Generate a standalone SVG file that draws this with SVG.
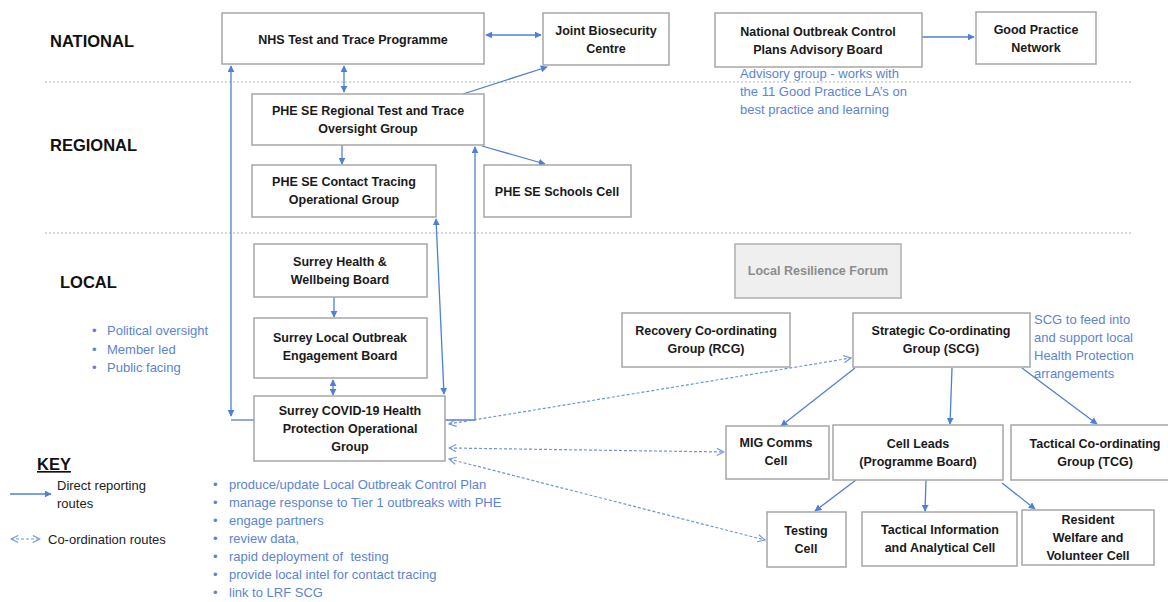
<svg xmlns="http://www.w3.org/2000/svg" width="1168" height="602" viewBox="0 0 1168 602">
<style>
.box{fill:#fff;stroke:#a6a6a6;stroke-width:1.5}
.lrf{fill:#efefef;stroke:#b0b0b0;stroke-width:1.5}
.t{font-family:"Liberation Sans",Arial,sans-serif;font-size:12.5px;font-weight:bold;fill:#1a1a1a;text-anchor:middle}
.tg{font-family:"Liberation Sans",Arial,sans-serif;font-size:12.5px;font-weight:bold;fill:#8c8c8c;text-anchor:middle}
.lvl{font-family:"Liberation Sans",Arial,sans-serif;font-size:16.5px;font-weight:bold;fill:#111}
.note{font-family:"Liberation Sans",Arial,sans-serif;font-size:13px;fill:#5b84d4}
.key{font-family:"Liberation Sans",Arial,sans-serif;font-size:13px;fill:#222}
.div{stroke:#b5b5b5;stroke-width:1.2;stroke-dasharray:2 2;fill:none}
.c{stroke:#4f7fd6;stroke-width:1.3;fill:none}
.d{stroke:#6f95dc;stroke-width:1.2;fill:none;stroke-dasharray:3 2}
</style>
<defs>
<marker id="ah" viewBox="0 0 10 10" refX="9" refY="5" markerWidth="7" markerHeight="7" orient="auto-start-reverse" markerUnits="userSpaceOnUse">
<path d="M0,0 L10,5 L0,10 z" fill="#4f7fd6"/>
</marker>
<marker id="oh" viewBox="0 0 10 10" refX="9" refY="5" markerWidth="9" markerHeight="9" orient="auto-start-reverse" markerUnits="userSpaceOnUse">
<path d="M1,1 L9,5 L1,9" fill="none" stroke="#6f95dc" stroke-width="1.2"/>
</marker>
</defs>
<rect width="1168" height="602" fill="#fff"/>

<g id="dividers">
<line class="div" x1="45" y1="82" x2="1132" y2="82"/>
<line class="div" x1="45" y1="233" x2="1132" y2="233"/>
</g>

<g id="levels">
<text class="lvl" x="50" y="47">NATIONAL</text>
<text class="lvl" x="50" y="151">REGIONAL</text>
<text class="lvl" x="60" y="288">LOCAL</text>
</g>

<g id="connectors">
<line class="c" x1="486" y1="35" x2="541" y2="35" marker-start="url(#ah)" marker-end="url(#ah)"/>
<line class="c" x1="344" y1="66" x2="344" y2="92" marker-start="url(#ah)" marker-end="url(#ah)"/>
<line class="c" x1="463" y1="94" x2="547" y2="67" marker-end="url(#ah)"/>
<line class="c" x1="922" y1="37" x2="974" y2="37" marker-end="url(#ah)"/>
<line class="c" x1="342" y1="145" x2="342" y2="164" marker-end="url(#ah)"/>
<line class="c" x1="482" y1="146" x2="545" y2="164" marker-end="url(#ah)"/>
<line class="c" x1="231" y1="66" x2="231" y2="416" marker-start="url(#ah)" marker-end="url(#ah)"/>
<polyline class="c" points="231,420 254,420"/>
<line class="c" x1="436" y1="219" x2="444" y2="394" marker-start="url(#ah)" marker-end="url(#ah)"/>
<polyline class="c" points="445,420 475,420 475,147" marker-end="url(#ah)"/>
<line class="c" x1="334" y1="297" x2="334" y2="317" marker-end="url(#ah)"/>
<line class="c" x1="333" y1="380" x2="333" y2="395" marker-start="url(#ah)" marker-end="url(#ah)"/>
<line class="c" x1="855" y1="368" x2="781" y2="426" marker-end="url(#ah)"/>
<line class="c" x1="952" y1="368" x2="950" y2="424" marker-end="url(#ah)"/>
<line class="c" x1="1022" y1="368" x2="1097" y2="424" marker-end="url(#ah)"/>
<line class="c" x1="856" y1="480" x2="815" y2="511" marker-end="url(#ah)"/>
<line class="c" x1="926" y1="480" x2="925" y2="511" marker-end="url(#ah)"/>
<line class="c" x1="1002" y1="483" x2="1035" y2="509" marker-end="url(#ah)"/>
<line class="d" x1="449" y1="424" x2="851" y2="358" marker-start="url(#oh)" marker-end="url(#oh)"/>
<line class="d" x1="449" y1="448" x2="724" y2="452" marker-start="url(#oh)" marker-end="url(#oh)"/>
<line class="d" x1="449" y1="459" x2="765" y2="540" marker-start="url(#oh)" marker-end="url(#oh)"/>
</g>

<g id="nhs"><rect class="box" x="222" y="13" width="262" height="51"/><text class="t" x="353" y="44">NHS Test and Trace Programme</text></g>
<g id="jbc"><rect class="box" x="543" y="13" width="126" height="52"/><text class="t" x="606" y="35">Joint Biosecurity</text><text class="t" x="606" y="53">Centre</text></g>
<g id="nocp"><rect class="box" x="715" y="13" width="207" height="54"/><text class="t" x="818" y="36">National Outbreak Control</text><text class="t" x="818" y="54">Plans Advisory Board</text></g>
<g id="gpn"><rect class="box" x="976" y="12" width="120" height="52"/><text class="t" x="1036" y="34">Good Practice</text><text class="t" x="1036" y="52">Network</text></g>
<g id="advisory-note"><text class="note" x="740" y="78">Advisory group - works with</text><text class="note" x="740" y="96">the 11 Good Practice LA’s on</text><text class="note" x="740" y="114">best practice and learning</text></g>

<g id="phe-regional"><rect class="box" x="252" y="94" width="232" height="51"/><text class="t" x="368" y="115">PHE SE Regional Test and Trace</text><text class="t" x="368" y="133">Oversight Group</text></g>
<g id="phe-contact"><rect class="box" x="252" y="165" width="184" height="52"/><text class="t" x="344" y="186">PHE SE Contact Tracing</text><text class="t" x="344" y="204">Operational Group</text></g>
<g id="phe-schools"><rect class="box" x="484" y="165" width="147" height="52"/><text class="t" x="557" y="196">PHE SE Schools Cell</text></g>

<g id="hwb"><rect class="box" x="254" y="244" width="173" height="53"/><text class="t" x="340" y="266">Surrey Health &amp;</text><text class="t" x="340" y="284">Wellbeing Board</text></g>
<g id="loeb"><rect class="box" x="254" y="318" width="173" height="60"/><text class="t" x="340" y="342">Surrey Local Outbreak</text><text class="t" x="340" y="360">Engagement Board</text></g>
<g id="covid"><rect class="box" x="254" y="396" width="191" height="65"/><text class="t" x="350" y="415">Surrey COVID-19 Health</text><text class="t" x="350" y="433">Protection Operational</text><text class="t" x="350" y="451">Group</text></g>
<g id="local-bullets">
<text class="note" x="92" y="335">•</text><text class="note" x="107" y="335">Political oversight</text>
<text class="note" x="92" y="354">•</text><text class="note" x="107" y="354">Member led</text>
<text class="note" x="92" y="372">•</text><text class="note" x="107" y="372">Public facing</text>
</g>

<g id="lrf"><rect class="lrf" x="735" y="244" width="166" height="54"/><text class="tg" x="818" y="275">Local Resilience Forum</text></g>
<g id="rcg"><rect class="box" x="622" y="313" width="168" height="54"/><text class="t" x="706" y="335">Recovery Co-ordinating</text><text class="t" x="706" y="353">Group (RCG)</text></g>
<g id="scg"><rect class="box" x="853" y="313" width="177" height="54"/><text class="t" x="941" y="335">Strategic Co-ordinating</text><text class="t" x="941" y="353">Group (SCG)</text></g>
<g id="scg-note"><text class="note" x="1034" y="324">SCG to feed into</text><text class="note" x="1034" y="342">and support local</text><text class="note" x="1034" y="360">Health Protection</text><text class="note" x="1034" y="378">arrangements</text></g>

<g id="mig"><rect class="box" x="726" y="426" width="103" height="53"/><text class="t" x="776" y="447">MIG Comms</text><text class="t" x="776" y="465">Cell</text></g>
<g id="cell-leads"><rect class="box" x="833" y="425" width="170" height="55"/><text class="t" x="918" y="448">Cell Leads</text><text class="t" x="918" y="466">(Programme Board)</text></g>
<g id="tcg"><rect class="box" x="1011" y="425" width="160" height="55"/><text class="t" x="1095" y="448">Tactical Co-ordinating</text><text class="t" x="1095" y="466">Group (TCG)</text></g>
<g id="testing"><rect class="box" x="767" y="512" width="79" height="55"/><text class="t" x="806" y="535">Testing</text><text class="t" x="806" y="553">Cell</text></g>
<g id="tiac"><rect class="box" x="862" y="512" width="155" height="54"/><text class="t" x="940" y="534">Tactical Information</text><text class="t" x="940" y="552">and Analytical Cell</text></g>
<g id="rwvc"><rect class="box" x="1022" y="510" width="132" height="55"/><text class="t" x="1088" y="524">Resident</text><text class="t" x="1088" y="542">Welfare and</text><text class="t" x="1088" y="560">Volunteer Cell</text></g>

<g id="covid-bullets">
<text class="note" x="213" y="489">•</text><text class="note" x="229" y="489">produce/update Local Outbreak Control Plan</text>
<text class="note" x="213" y="507">•</text><text class="note" x="229" y="507">manage response to Tier 1 outbreaks with PHE</text>
<text class="note" x="213" y="525">•</text><text class="note" x="229" y="525">engage partners</text>
<text class="note" x="213" y="543">•</text><text class="note" x="229" y="543">review data,</text>
<text class="note" x="213" y="561">•</text><text class="note" x="229" y="561" xml:space="preserve">rapid deployment of  testing</text>
<text class="note" x="213" y="579">•</text><text class="note" x="229" y="579">provide local intel for contact tracing</text>
<text class="note" x="213" y="597">•</text><text class="note" x="229" y="597">link to LRF SCG</text>
</g>

<g id="key">
<text class="lvl" x="37" y="470" style="text-decoration:underline">KEY</text>
<line class="c" x1="10" y1="494" x2="51" y2="494" marker-end="url(#ah)"/>
<text class="key" x="57" y="490">Direct reporting</text>
<text class="key" x="57" y="508">routes</text>
<line class="d" x1="11" y1="539" x2="40" y2="539" marker-start="url(#oh)" marker-end="url(#oh)"/>
<text class="key" x="48" y="544">Co-ordination routes</text>
</g>
</svg>
